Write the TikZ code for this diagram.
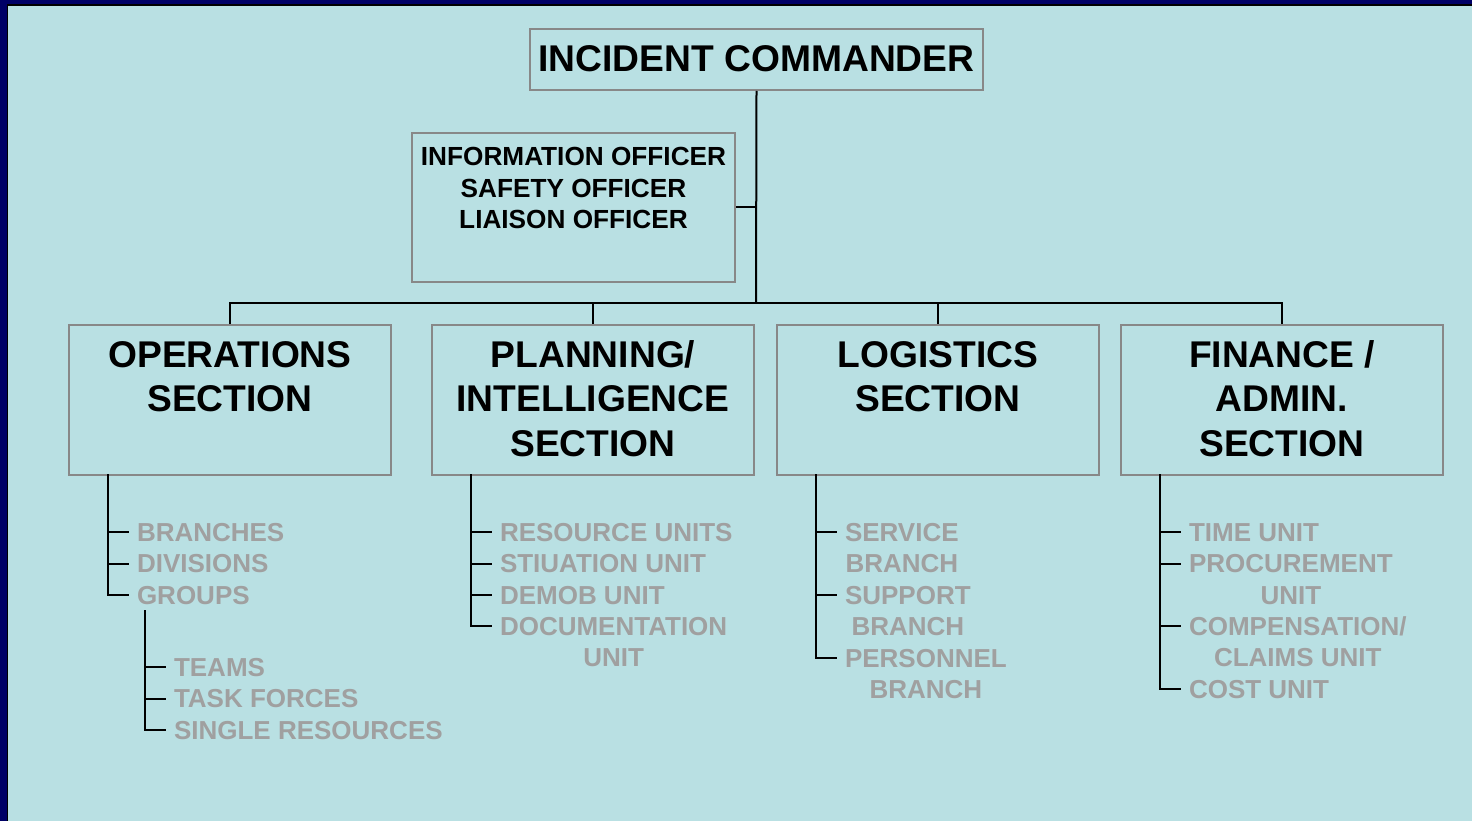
\documentclass[tikz,border=0pt]{standalone}
\usepackage{fontspec}
\setmainfont{Liberation Sans}
\usetikzlibrary{calc}
\definecolor{bgc}{HTML}{B9E0E3}
\definecolor{navyc}{HTML}{000066}
\definecolor{boxline}{HTML}{888888}
\definecolor{itemgray}{HTML}{A0A0A0}
\newcommand{\bigtxt}{\fontsize{37.2}{44.5}\selectfont\bfseries}
\newcommand{\offtxt}{\fontsize{26.2}{31.5}\selectfont\bfseries}
\newcommand{\itemtxt}{\fontsize{26}{31.4}\selectfont\bfseries}
\newcommand{\mlines}[1]{\begin{tabular}[t]{@{}c@{}}#1\end{tabular}}
\begin{document}
\begin{tikzpicture}[x=1pt,y=-1pt,
  box/.style={draw=boxline, line width=2pt, inner sep=0pt, align=center},
  sect/.style={box, minimum width=322pt, text height=42pt, text depth=108pt, anchor=north, font=\bigtxt},
  conn/.style={draw=black, line width=2pt},
  item/.style={inner sep=0pt, outer xsep=8pt, text height=18.6pt, text depth=0pt, anchor=west, text=itemgray, font=\itemtxt}]
\useasboundingbox (0,0) rectangle (1472,821);
\fill[navyc] (0,0) rectangle (1472,821);
\fill[black] (6.5,4.5) rectangle (1472,821);
\fill[bgc] (8,6.5) rectangle (1472,821);

% top level
\node[box, minimum width=453pt, text height=42.3pt, text depth=18.7pt, anchor=north, font=\bigtxt] (ic) at (756.5,28) {INCIDENT COMMANDER};
\node[box, minimum width=323pt, text height=32.6pt, text depth=116.4pt, anchor=north, font=\offtxt] (off) at (573.5,132)
  {\mlines{INFORMATION OFFICER\\SAFETY OFFICER\\LIAISON OFFICER}};

% sections
\node[sect] (ops)  at (230,324)  {\mlines{OPERATIONS\\SECTION}};
\node[sect] (plan) at (593,324)  {\mlines{PLANNING/\\INTELLIGENCE\\SECTION}};
\node[sect] (log)  at (938,324)  {\mlines{LOGISTICS\\SECTION}};
\node[sect] (fin)  at (1282,324) {\mlines{FINANCE /\\ADMIN.\\SECTION}};

\coordinate (hub) at (756,303);
\draw[conn] (ic.south) -- (hub);
\draw[conn] (off.east) -- (off.east -| hub);
\draw[conn] (ops.north) |- (hub) -| (fin.north);
\draw[conn] (plan.north) -- (plan.north |- hub);
\draw[conn] (log.north) -- (log.north |- hub);

% operations items
\coordinate (opsS) at (108,474);
\node[item] (br) at (129,532)   {BRANCHES};
\node[item] (dv) at (129,563.5) {DIVISIONS};
\node[item] (gr) at (129,595)   {GROUPS};
\draw[conn] (opsS) |- (gr.west);
\draw[conn] (br.west -| opsS) -- (br.west);
\draw[conn] (dv.west -| opsS) -- (dv.west);

\coordinate (grS) at (145,610);
\node[item] (tm) at (166,667)   {TEAMS};
\node[item] (tf) at (166,698.5) {TASK FORCES};
\node[item] (sr) at (166,730)   {SINGLE RESOURCES};
\draw[conn] (grS) |- (sr.west);
\draw[conn] (tm.west -| grS) -- (tm.west);
\draw[conn] (tf.west -| grS) -- (tf.west);

% planning items
\coordinate (planS) at (471,474);
\node[item] (ru)  at (492,532)   {RESOURCE UNITS};
\node[item] (su)  at (492,563.5) {STIUATION UNIT};
\node[item] (du)  at (492,595)   {DEMOB UNIT};
\node[item] (doc) at (492,626)   {\mlines{DOCUMENTATION\\UNIT}};
\draw[conn] (planS) |- (doc.west);
\draw[conn] (ru.west -| planS) -- (ru.west);
\draw[conn] (su.west -| planS) -- (su.west);
\draw[conn] (du.west -| planS) -- (du.west);

% logistics items
\coordinate (logS) at (816,474);
\node[item] (sv) at (837,532) {\mlines{SERVICE\\BRANCH}};
\node[item] (sp) at (837,595) {\mlines{SUPPORT\\BRANCH}};
\node[item] (pe) at (837,658) {\mlines{PERSONNEL\\BRANCH}};
\draw[conn] (logS) |- (pe.west);
\draw[conn] (sv.west -| logS) -- (sv.west);
\draw[conn] (sp.west -| logS) -- (sp.west);

% finance items
\coordinate (finS) at (1160,474);
\node[item] (tu) at (1181,532)   {TIME UNIT};
\node[item] (pu) at (1181,563.5) {\mlines{PROCUREMENT\\UNIT}};
\node[item] (cc) at (1181,626)   {\mlines{COMPENSATION/\\CLAIMS UNIT}};
\node[item] (cu) at (1181,689)   {COST UNIT};
\draw[conn] (finS) |- (cu.west);
\draw[conn] (tu.west -| finS) -- (tu.west);
\draw[conn] (pu.west -| finS) -- (pu.west);
\draw[conn] (cc.west -| finS) -- (cc.west);
\end{tikzpicture}
\end{document}
